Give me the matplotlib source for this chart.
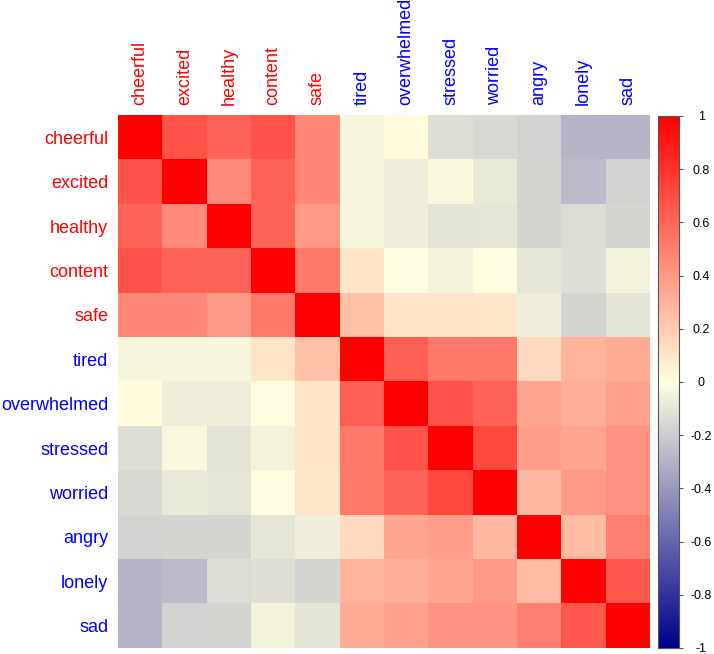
import numpy as np
import matplotlib.pyplot as plt
from matplotlib.colors import LinearSegmentedColormap

plt.rcParams['font.family'] = ['Liberation Sans', 'DejaVu Sans']

# Variáveis e cores dos rótulos
variaveis = ['cheerful', 'excited', 'healthy', 'content', 'safe', 'tired',
             'overwhelmed', 'stressed', 'worried', 'angry', 'lonely', 'sad']
cores_rotulos = ['red'] * 5 + ['blue'] * 7

# Matriz de correlação
cheerful    = [1.00, 0.67, 0.60, 0.67, 0.46, -0.04, 0.01, -0.13, -0.15, -0.18, -0.29, -0.29]
excited     = [0.67, 1.00, 0.45, 0.61, 0.46, -0.04, -0.07, -0.03, -0.09, -0.17, -0.27, -0.18]
healthy     = [0.60, 0.45, 1.00, 0.60, 0.39, -0.04, -0.07, -0.11, -0.10, -0.17, -0.14, -0.17]
content     = [0.67, 0.61, 0.60, 1.00, 0.52, 0.10, -0.01, -0.05, -0.01, -0.10, -0.13, -0.05]
safe        = [0.46, 0.46, 0.39, 0.52, 1.00, 0.24, 0.10, 0.10, 0.09, -0.07, -0.17, -0.11]
tired       = [-0.04, -0.04, -0.04, 0.10, 0.24, 1.00, 0.62, 0.52, 0.52, 0.15, 0.29, 0.32]
overwhelmed = [0.01, -0.07, -0.07, -0.01, 0.10, 0.62, 1.00, 0.67, 0.60, 0.35, 0.31, 0.36]
stressed    = [-0.13, -0.03, -0.11, -0.05, 0.10, 0.52, 0.67, 1.00, 0.71, 0.37, 0.35, 0.42]
worried     = [-0.15, -0.09, -0.10, -0.01, 0.09, 0.52, 0.60, 0.71, 1.00, 0.27, 0.39, 0.42]
angry       = [-0.18, -0.17, -0.17, -0.10, -0.07, 0.15, 0.35, 0.37, 0.27, 1.00, 0.26, 0.49]
lonely      = [-0.29, -0.27, -0.14, -0.13, -0.17, 0.29, 0.31, 0.35, 0.39, 0.26, 1.00, 0.65]
sad         = [-0.29, -0.18, -0.17, -0.05, -0.11, 0.32, 0.36, 0.42, 0.42, 0.49, 0.65, 1.00]

matriz = np.array([cheerful, excited, healthy, content, safe, tired,
                   overwhelmed, stressed, worried, angry, lonely, sad])

cmap = LinearSegmentedColormap.from_list('corr', ['#00008B', '#FFFFE0', '#FF0000'], N=200)

W, H = 714, 654
fig = plt.figure(figsize=(W / 100, H / 100), dpi=100)
ax = fig.add_axes([118 / W, 6 / H, 532 / W, 533 / H])

n = len(variaveis)
im = ax.imshow(matriz, cmap=cmap, vmin=-1, vmax=1, aspect='auto',
               interpolation='nearest', extent=(-0.5, n - 0.5, n - 0.5, -0.5))

ax.set_xticks(range(n))
ax.set_xticklabels(variaveis, rotation=90, fontsize=13)
ax.xaxis.tick_top()
ax.set_yticks(range(n))
ax.set_yticklabels(variaveis, fontsize=13)
for lbl, c in zip(ax.get_xticklabels(), cores_rotulos):
    lbl.set_color(c)
for lbl, c in zip(ax.get_yticklabels(), cores_rotulos):
    lbl.set_color(c)
ax.tick_params(length=0, pad=7)
for s in ax.spines.values():
    s.set_visible(False)

# Barra de cores
cax = fig.add_axes([658 / W, 6 / H, 21 / W, 532 / H])
cb = fig.colorbar(im, cax=cax)
ticks = np.round(np.arange(-1, 1.01, 0.2), 1)
cb.set_ticks(ticks)
cb.set_ticklabels([f'{t:g}' if t != 0 else '0' for t in ticks])
cb.ax.tick_params(labelsize=9, length=3, width=0.8, color='#555555', pad=13)
for lbl in cb.ax.get_yticklabels():
    lbl.set_horizontalalignment('center')
cb.outline.set_edgecolor('#555555')
cb.outline.set_linewidth(0.8)

plt.savefig('out.png', dpi=100)
